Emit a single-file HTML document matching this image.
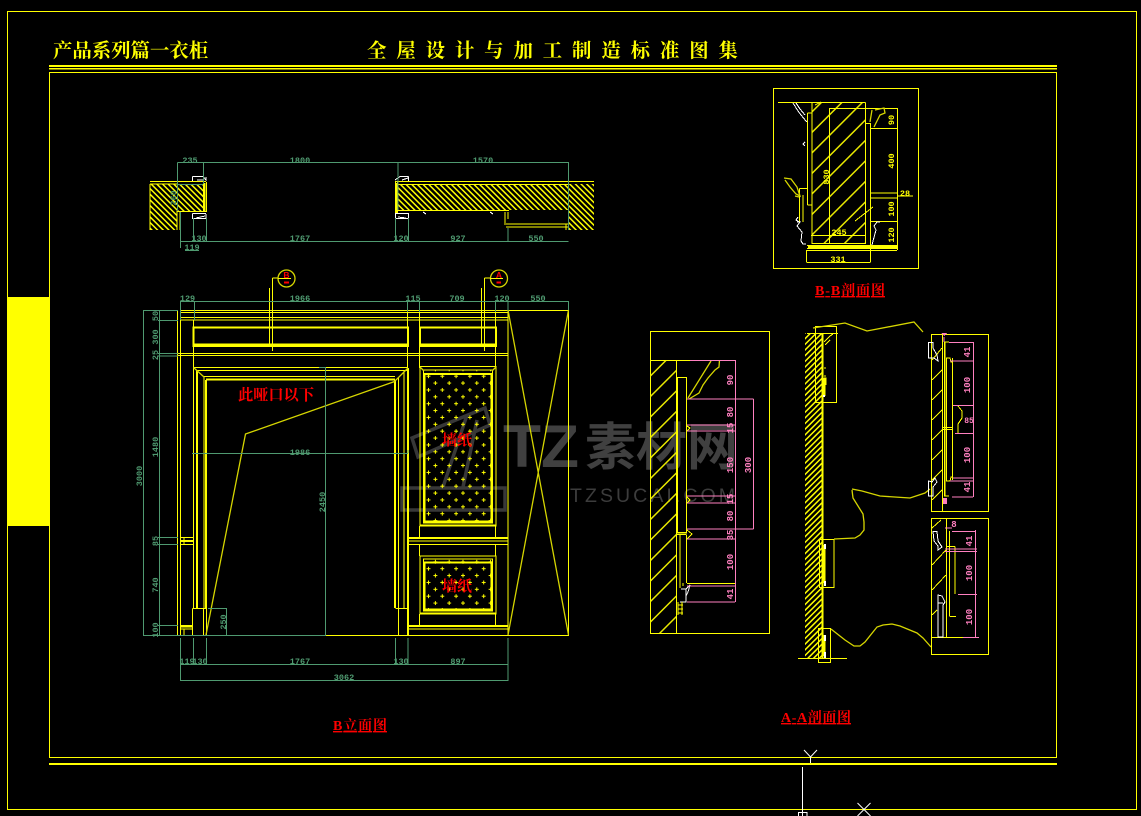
<!DOCTYPE html>
<html><head><meta charset="utf-8"><style>
html,body{margin:0;padding:0;background:#000;width:1141px;height:816px;overflow:hidden}
svg{display:block}
.y{fill:none;stroke:#ff0;stroke-width:1}
.t{fill:none;stroke:#ff0;stroke-width:2}
.d{fill:none;stroke:#d6d600;stroke-width:1.3;shape-rendering:auto}
.g{fill:none;stroke:#4f9a70;stroke-width:1}
.p{fill:none;stroke:#ff80c0;stroke-width:1}
.w{fill:none;stroke:#fff;stroke-width:1}
.gt{fill:#4f9a70;font:bold 8.5px "Liberation Mono",monospace;text-anchor:middle}
.pt{fill:#ff80c0;font:bold 9px "Liberation Mono",monospace;text-anchor:middle}
.yt{fill:#ff0;font:bold 8.5px "Liberation Mono",monospace;text-anchor:middle}
.r{fill:#f00;font-weight:bold;font-family:"Liberation Serif","Noto Serif CJK SC",serif}
.h{fill:#ff0;font-weight:bold;font-family:"Liberation Serif","Noto Serif CJK SC",serif}
</style></head><body>
<svg width="1141" height="816" viewBox="0 0 1141 816" xmlns="http://www.w3.org/2000/svg" shape-rendering="crispEdges">
<defs>
<pattern id="dh" width="4" height="4" patternUnits="userSpaceOnUse" patternTransform="rotate(-45)"><rect width="1.7" height="4" fill="#ff0"/></pattern>
<pattern id="ds" width="4" height="4" patternUnits="userSpaceOnUse" patternTransform="rotate(45)"><rect width="1.7" height="4" fill="#ff0"/></pattern>
<pattern id="wh" width="14.5" height="14.5" patternUnits="userSpaceOnUse" patternTransform="rotate(45)"><rect width="1.4" height="14.5" fill="#e8e800"/></pattern>
<pattern id="cr" x="428" y="375.7" width="13.8" height="13.75" patternUnits="userSpaceOnUse">
<path d="M-1.5 .5H2.5M.5 -1.5V2.5M5.4 7.4H9.4M7.4 5.4V9.4M12.3 .5H16.3M14.3 -1.5V2.5M-1.5 14.25H2.5M.5 12.25V16.25M12.3 14.25H16.3M14.3 12.25V16.25" stroke="#ff0" stroke-width="1" fill="none"/>
</pattern>
</defs>
<rect width="1141" height="816" fill="#000"/>

<!-- watermark (underneath drawing) -->
<g shape-rendering="auto">
<text x="503" y="467" font-family="Liberation Sans,sans-serif" font-weight="bold" font-size="60" fill="#404040" textLength="76" lengthAdjust="spacingAndGlyphs">TZ</text>
<text x="585" y="465" font-family="Noto Sans CJK SC,sans-serif" font-weight="bold" font-size="51" fill="#404040">素材网</text>
<text x="570" y="502" font-family="Liberation Sans,sans-serif" font-size="19.5" letter-spacing="3" fill="#3c3c3c" textLength="168">TZSUCAI.COM</text>
<path d="M412 438L485 408L490 425L418 457ZM402 488H505V510H402ZM467 415L443 487M477 420L463 487" fill="none" stroke="#383838" stroke-width="3.5"/>
</g>

<!-- frame -->
<rect x="7.5" y="11.5" width="1129" height="798" class="y"/>
<rect x="49.5" y="72.5" width="1007" height="685" class="y"/>
<rect x="7" y="297" width="42.5" height="229" fill="#ff0"/>
<path class="t" d="M49 66H1057"/><path class="y" style="stroke-width:1.5" d="M49 68.5H1057"/>
<path class="t" d="M49 764.2H1057"/>
<text class="h" x="53" y="57" font-size="19.4">产品系列篇一衣柜</text>
<text class="h" x="367" y="57" font-size="19.4" letter-spacing="9.9">全屋设计与加工制造标准图集</text>
<!-- white markers -->
<path class="w" d="M804 750L810.5 757L817 750M810.5 757V763M802.5 767V816M798.5 812.5H807V817H798.5ZM857.5 803L870.5 816M870.5 803L857.5 816" shape-rendering="auto"/>

<!-- top plan -->
<rect x="150" y="184" width="27" height="46" fill="url(#dh)"/>
<rect x="177" y="184" width="26" height="27" fill="url(#dh)"/>
<rect x="398" y="184" width="170" height="26" fill="url(#dh)"/>
<rect x="568" y="184" width="26" height="46" fill="url(#dh)"/>
<path class="y" d="M150 181.5H206M395 181.5H594M150 184H177M398 184.5H568M177.5 211.5H206M398 210.5H509M177 211V230M180 212V230M203.5 184V212M206.5 182V212M395.5 182V213M397.5 182V213M505 212V225M508 212V219M506 224H568M506 227H568M568.5 212V230M566 224V230M150 184V230"/>
<path class="t" d="M204.5 183V212M396 183V213"/>
<path class="w" d="M192.5 176.5H203L206 180V177M192.5 176.5V181M197 180H203M192.5 213.5H206M192.5 213.5V218.5H206V214M196 218L205 216M408.5 176.5H400L395 180M408.5 176.5V181M402 180L408 178M395.5 213.5H408.5V218.5H395.5ZM398 217L406 218M423 212L426 214M490 212L493 214"/>
<path class="g" d="M177.5 162.5H568.5M177.5 162.5V211M203.5 162V184M398 162V210M568.5 162V230M180.5 241.5H568.5M180.5 212V248M193.5 218V241M206.5 218V241M395.5 218V241M408.5 218V241M508 228V241M185 250.5H199"/>
<path class="g" d="M177 184.5H203"/>
<text class="gt" x="190" y="163">235</text><text class="gt" x="300" y="163">1800</text><text class="gt" x="483" y="163">1570</text>
<text class="gt" x="199" y="241">130</text><text class="gt" x="300" y="241">1767</text><text class="gt" x="401" y="241">120</text><text class="gt" x="458" y="241">927</text><text class="gt" x="536" y="241">550</text>
<text class="gt" x="192" y="250">119</text>
<text class="gt" transform="rotate(-90 176 198)" x="176" y="198">260</text>

<!-- elevation -->
<path class="y" d="M180 310.5H568.5M180 312.7H508M180 317.3H508M180 320H508M178 353.5H508M178 355.7H508M177.5 310V635M180.5 310V635M193.5 320V368M407.5 310V368M419.5 310V368M495.5 310V368M508 310V635M568.5 310V635M177 635.5H569M193.5 367.5H408M196 370.5H408M204 376.5H395M193.5 367V608M204 377V608M398.5 377V608M404 370V608M192.5 608.5H206.5M192.5 608.5V635M203.5 608.5V635M206.5 608V635M395.5 608.5H408M398.5 608.5V635M180 537.5H193M180 544.3H193M180 625.5H193M180 629H193M184 629V635M184 537V544M408 541H508M408 544.3H508M408 629H508M419.5 526V538M495.5 526V538M419.5 544V556M495.5 544V556M419.5 614V625M495.5 614V625"/>
<path class="t" d="M197 370V608M206 380V608M395 380V608M408 368V635M206 379.5H395M180 541H193M408 538H508M408 626H508M180 626.5H193"/>
<path class="t" d="M193.5 327.5H408V346H193.5ZM420 327.5H496V346H420Z"/>
<path class="t" style="stroke-width:3" d="M193.5 345H408M420 345H496"/>
<path class="y" d="M272.5 278H278M272.5 278V351M269.5 288V345M484.5 278H490M484.5 278V351M481.5 288V345"/>
<circle cx="286.5" cy="278.5" r="8.5" class="d"/><circle cx="499" cy="278.5" r="8.5" class="d"/>
<path class="y" d="M278 278.5H291M490 278.5H503"/>
<text x="286.5" y="278" fill="#f00" font-size="8.5" font-weight="bold" text-anchor="middle" font-family="Liberation Sans">B</text>
<text x="499" y="278" fill="#f00" font-size="8.5" font-weight="bold" text-anchor="middle" font-family="Liberation Sans">A</text>
<path d="M284 282.5H289M496.5 282.5H501" stroke="#f00" stroke-width="2"/>
<!-- panels -->
<rect x="423.5" y="370" width="69" height="153" fill="url(#cr)"/>
<rect x="423.5" y="559" width="69" height="51" fill="url(#cr)"/>
<path class="y" d="M420 366.5H496V526H420ZM423.5 370H492.5V523H423.5ZM420 556H496V614H420ZM423.5 559H492.5V611H423.5Z"/>
<path class="t" d="M424 374H492M424 521.5H492M424.5 374V522M491.5 374V522M424 562.5H492M424 609.5H492M424.5 562V610M491.5 562V610M420 525.5H496M420 613.5H496"/>
<!-- diagonals -->
<path class="d" d="M206 635L245.5 434L394.5 381.5L408 368M193.5 367.5L204 377M508 310L568.5 635M568.5 310L508 635M420 367L424 371M496 367L492 371"/>
<!-- elevation dims -->
<path class="g" d="M180 301.5H569M180.5 301V320M194.5 301V320M407.5 301V312M419.5 301V312M495.5 301V312M508 301V311M568.5 301V310M143.5 310V636M143 310.5H178M159.5 310V636M158 320.5H178M158 353.5H178M158 356H178M158 537.5H178M158 544.5H178M158 625.5H178M143 635.5H326M325.5 367V636M192 453.5H408M408 450V453M325.5 367.5H319M208 608.5H227M226.5 608V636M180.5 638V681M193.5 638V665M206.5 638V665M395.5 638V665M408 638V665M508 638V681M180 664.5H508M180 680.5H508"/>
<g class="gt">
<text x="187.5" y="301">129</text><text x="300" y="301">1966</text><text x="413" y="301">115</text><text x="457" y="301">709</text><text x="502" y="301">120</text><text x="538" y="301">550</text>
<text x="300" y="455">1986</text>
<text x="187" y="664">119</text><text x="200" y="664">130</text><text x="300" y="664">1767</text><text x="401" y="664">130</text><text x="458" y="664">897</text><text x="344" y="680">3062</text>
<text transform="rotate(-90 142 476)" x="142" y="476">3000</text>
<text transform="rotate(-90 158 316)" x="158" y="316">50</text>
<text transform="rotate(-90 158 337)" x="158" y="337">300</text>
<text transform="rotate(-90 158 355)" x="158" y="355">25</text>
<text transform="rotate(-90 158 447)" x="158" y="447">1480</text>
<text transform="rotate(-90 158 541)" x="158" y="541">85</text>
<text transform="rotate(-90 158 585)" x="158" y="585">740</text>
<text transform="rotate(-90 158 630)" x="158" y="630">100</text>
<text transform="rotate(-90 325 502)" x="325" y="502">2450</text>
<text transform="rotate(-90 226 622)" x="226" y="622">250</text>
</g>
<text class="r" x="238" y="400" font-size="15.3" textLength="76">此哑口以下</text>
<text class="r" x="442" y="445" font-size="15">墙纸</text>
<text class="r" x="442" y="591" font-size="15">墙纸</text>
<text class="r" x="333" y="730" font-size="14" text-decoration="underline" textLength="54">B立面图</text>
<text class="r" x="781" y="722" font-size="14" text-decoration="underline" textLength="70">A-A剖面图</text>
<text class="r" x="815" y="295" font-size="14" text-decoration="underline" textLength="70">B-B剖面图</text>

<!-- B-B section -->
<rect x="773.5" y="88.5" width="145" height="180" class="y"/>
<rect x="812" y="102.5" width="53.5" height="141" fill="url(#wh)"/>
<path class="y" d="M778 102.5H865.5M812 102.5V243.5H865.5V102.5M829.5 108V243M829.5 108.5H897.5V250M870.5 123V250M865.5 123.5H870.5M870.5 128.5H897.5M870.5 193H897.5M870.5 198H897.5M870.5 221.5H897.5M897.5 196H913M807.5 113V205M812 113H807.5M807.5 205H812M799.5 188.5H807.5M799.5 188.5V222M803 195V222M811 235.5H866M807 245.5H897M807 248.5H897M807 250.5H897M806.5 250V262M870.5 250V262M806.5 262.5H870.5M855 221L873 207M815 105L821 102"/>
<path class="d" d="M875 110L884 108L885 113L880 115L874 127M872 110L870 122M784 178L791 179L797 187L800 196L796 194L790 187L785 180M795 196L799 197"/>
<path class="w" d="M793 103L798 111L801 115L806 121L807 122M796 103L800 109L805 115M805 142L803 144L805 146M797 222H800L797 226L802 232L801 241L803 244H806M880 222H877L874 226L876 230L873 241L872 245M798 217L796 220L799 222"/>
<path class="t" style="stroke-width:3" d="M808 247H897"/>
<g class="yt"><text transform="rotate(-90 894 120)" x="894" y="120">90</text><text transform="rotate(-90 894 161)" x="894" y="161">400</text><text transform="rotate(-90 894 209)" x="894" y="209">100</text><text transform="rotate(-90 894 235)" x="894" y="235">120</text><text transform="rotate(-90 829 177)" x="829" y="177">830</text><text x="905" y="196">28</text><text x="839" y="235">245</text><text x="838" y="262">331</text></g>

<!-- A-A left section -->
<rect x="650.5" y="331.5" width="119" height="302" class="y"/>
<rect x="650.5" y="360" width="26" height="273" fill="url(#wh)"/>
<path class="y" d="M650 360.5H735M676.5 360V633M677.5 377.5H686.5V533H677.5ZM677 532.5H686.5M677 534.5H686.5M680 535V588M686.5 535V583M683 586V583M687 583.5H735"/>
<path class="d" d="M688 398L711 361M689 399L699 393L703 385L708 378L715 370L719 367L719.5 360"/>
<path class="y" d="M687 426L690 428L687 431M687 497L690 500L687 503M687 530L692 534L687 539"/>
<path class="w" d="M681 589H686V601M686 589L690 585M690 585L688 592L686 596V602H680"/>
<path class="y" d="M678 602V615M682 602V615M678 605H683M678 609H683M678 613H683"/>
<path class="p" d="M690 360.5H735.5M735.5 360V602M687 399H753.5M753.5 399V529M687 425H735M687 431H735M687 496H735M687 503H735M687 529H753.5M687 539H735M687 586H735M687 602H735"/>
<g class="pt"><text transform="rotate(-90 733 380)" x="733" y="380">90</text><text transform="rotate(-90 733 412)" x="733" y="412">80</text><text transform="rotate(-90 733 428)" x="733" y="428">15</text><text transform="rotate(-90 733 465)" x="733" y="465">150</text><text transform="rotate(-90 733 499)" x="733" y="499">15</text><text transform="rotate(-90 733 516)" x="733" y="516">80</text><text transform="rotate(-90 733 535)" x="733" y="535">35</text><text transform="rotate(-90 733 562)" x="733" y="562">100</text><text transform="rotate(-90 733 594)" x="733" y="594">41</text><text transform="rotate(-90 751 465)" x="751" y="465">300</text></g>

<!-- A-A mid section -->
<rect x="805" y="333" width="17.5" height="325" fill="url(#ds)"/>
<path class="t" d="M822.5 333V658"/>
<path class="y" d="M815.5 326.5H836.5V402.5H815.5ZM807 333.5H838M819.5 539.5H834V587.5H819.5ZM818.5 628.5H830.5V662.5H818.5ZM798 658.5H847"/>
<path class="d" d="M813 328L845 323L867 331L914 322L923 332M852 489L862 491L880 496L910 498L925 493L930 489M852 490L853 498L863 514L864 522L864 530L860 535L855 538L834 539M831 629L845 640L854 646L860 646L865 642L877 627L883 625L892 624L900 626L917 633L923 638L931 647"/>
<path class="y" d="M824 342L830 336L833 334M825 345L830 340M824 376H826M824 368H826M824 378H826V385"/>
<path class="t" style="stroke-width:2.5" d="M824 378V396M824 545V583M824 635V656"/>
<path class="w" style="stroke-width:2" d="M825 544V549M825 581V586M824 395V397M825 635V641M825 652V658"/>

<!-- A-A right upper -->
<rect x="931.5" y="334.5" width="57" height="177" class="y"/>
<path class="y" d="M942.5 334V511M946.5 358V481M952.5 358V480M944 342H949M944 496H949M943 427.5H952M943 429.5H952M946 358H950L951 362H953M946 481H950L951 477H953M932 360L942 348M932 380L942 370M932 400L942 390M932 420L942 410M932 440L942 430M932 460L942 450M932 480L942 470M932 500L942 490"/>
<path class="t" style="stroke-width:1.5" d="M944.5 342V496"/>
<path class="p" d="M949 342.5H973.5M973.5 342V497M950 361H973M953 405.5H973M955 433.5H973M953 478H973M950 481H973M952 497H973"/>
<path class="y" d="M958 406L962 411L962 418L958 424V433"/>
<path class="w" d="M928.5 342.5V358H934L938 361L937 355L933 348V342.5ZM928.5 481V496H933V487L937 482L935 478L932 482Z"/>
<g class="pt"><text transform="rotate(-90 970 352)" x="970" y="352">41</text><text transform="rotate(-90 970 385)" x="970" y="385">100</text><text x="969" y="423" style="font-size:8px">85</text><text transform="rotate(-90 970 455)" x="970" y="455">100</text><text transform="rotate(-90 970 487)" x="970" y="487">41</text></g>
<path d="M944 336L941 333H947ZM943 504H947V498H943Z" fill="#ff80c0"/>
<path class="p" d="M944 337V342"/>

<!-- A-A right lower -->
<rect x="931.5" y="518.5" width="57" height="136" class="y"/>
<path class="y" d="M946.5 518V637M931 637.5H967M949.5 531V616M949.5 616.5H956M946.5 546.5H955M955 546.5V594M932 528L941 520M932 565L946 550M932 590L946 575M932 615L937 610"/>
<path class="p" d="M952 531.5H975.5M975.5 530V638M945 549H977M945 551.5H977M958 594.5H977M963 637.5H979M945 528H952"/>
<path class="w" d="M933 531.5H937L938 541L942 547L938 550V546L934 541ZM938 595V637H943V605L945 602L942 596ZM938 603H943"/>
<g class="pt"><text transform="rotate(-90 972 541)" x="972" y="541">41</text><text transform="rotate(-90 972 573)" x="972" y="573">100</text><text transform="rotate(-90 972 617)" x="972" y="617">100</text><text x="954" y="527">8</text></g>
</svg>
</body></html>
